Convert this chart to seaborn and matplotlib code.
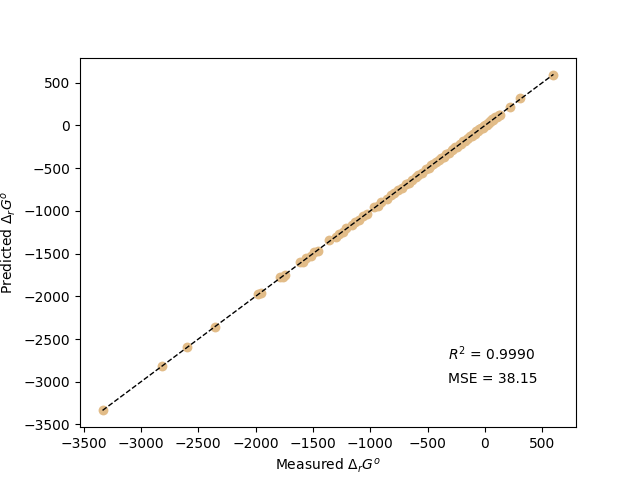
import matplotlib
matplotlib.use("Agg")
import matplotlib.pyplot as plt
import seaborn as sns
import pandas as pd

measured = [-3335, -2815, -2600, -2355, -1975, -1950, -1790, -1765, -1745, -1610,
            -1590, -1560, -1520, -1490, -1460, -1360, -1300, -1275, -1240, -1210,
            -1160, -1135, -1100, -1065, -1030, -965, -935, -905, -850, -815,
            -790, -760, -720, -690, -665, -640, -600, -580, -545, -515,
            -490, -470, -450, -430, -400, -385, -360, -340, -315, -290,
            -275, -260, -240, -220, -205, -190, -175, -160, -145, -130,
            -115, -100, -90, -75, -60, -50, -40, -30, -20, -10,
            -5, 5, 15, 25, 35, 45, 55, 65, 75, 90,
            105, 120, 130, 215, 310, 598]
predicted = [-3330, -2820, -2595, -2360, -1968, -1955, -1772, -1770, -1750, -1602,
             -1596, -1552, -1526, -1484, -1466, -1340, -1306, -1270, -1246, -1204,
             -1166, -1128, -1106, -1060, -1036, -958, -941, -899, -856, -809,
             -796, -754, -726, -684, -671, -634, -606, -574, -551, -509,
             -496, -464, -456, -424, -406, -379, -366, -334, -321, -284,
             -281, -254, -246, -214, -211, -184, -181, -154, -151, -124,
             -121, -94, -96, -69, -66, -44, -46, -24, -26, -4,
             -11, 11, 9, 31, 29, 51, 49, 71, 69, 96,
             99, 126, 124, 221, 316, 593]

r2_text = "$R^2$ = 0.9990"
mse_text = "MSE = 38.15"

df = pd.DataFrame({"measured": measured, "predicted": predicted})

fig, ax = plt.subplots(figsize=(6.4, 4.8), dpi=100)
sns.scatterplot(data=df, x="measured", y="predicted", color="#E2BC88",
                s=50, linewidth=0, alpha=1.0, ax=ax)
lo = min(min(measured), min(predicted))
hi = max(max(measured), max(predicted))
ax.plot([lo, hi], [lo, hi], "k--", linewidth=1)
ax.set_xlabel(r"Measured $\Delta_rG^o$")
ax.set_ylabel(r"Predicted $\Delta_rG^o$")
ax.text(0.742, 0.181, r2_text, transform=ax.transAxes)
ax.text(0.742, 0.119, mse_text, transform=ax.transAxes)
fig.savefig("out.png", dpi=100)
